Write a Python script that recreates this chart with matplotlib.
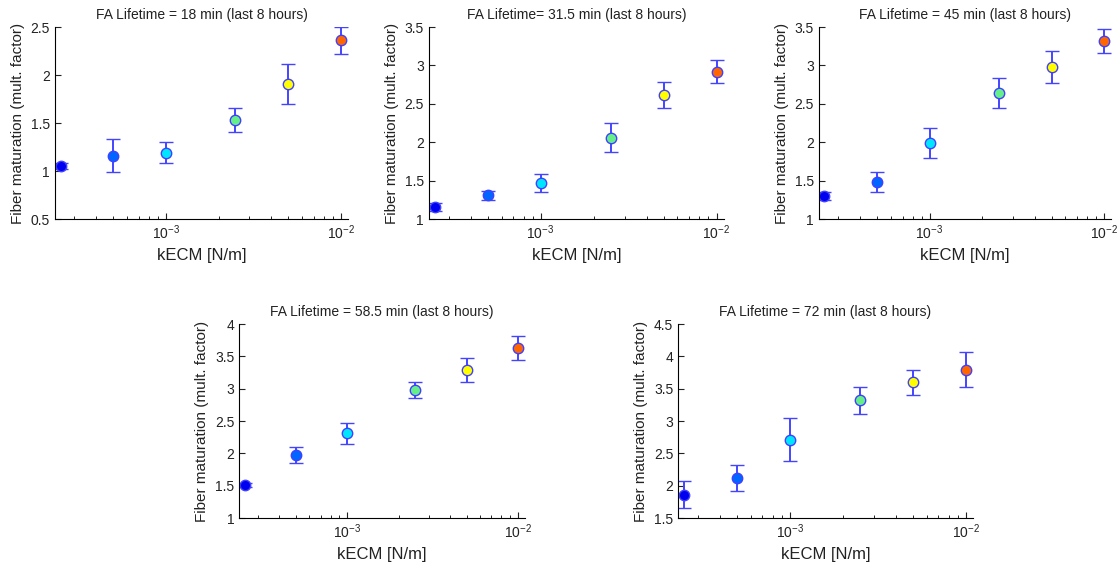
import numpy as np
import matplotlib.pyplot as plt
from matplotlib.ticker import LogLocator, NullFormatter, FixedLocator

plt.rcParams['font.family'] = ['Liberation Sans', 'DejaVu Sans']
plt.rcParams['mathtext.fontset'] = 'custom'
plt.rcParams['mathtext.rm'] = 'Liberation Sans'

# stiffness values (x axis, log scale)
kecm = [2.5e-4, 5e-4, 1e-3, 2.5e-3, 5e-3, 1e-2]

titles = ['FA Lifetime = 18 min (last 8 hours)',
          'FA Lifetime= 31.5 min (last 8 hours)',
          'FA Lifetime = 45 min (last 8 hours)',
          'FA Lifetime = 58.5 min (last 8 hours)',
          'FA Lifetime = 72 min (last 8 hours)']

mean_18 = [1.05, 1.16, 1.19, 1.53, 1.91, 2.36]
err_18 = [0.03, 0.17, 0.11, 0.125, 0.21, 0.14]
mean_31 = [1.16, 1.31, 1.47, 2.06, 2.62, 2.92]
err_31 = [0.055, 0.06, 0.12, 0.19, 0.17, 0.145]
mean_45 = [1.30, 1.48, 1.99, 2.64, 2.98, 3.32]
err_45 = [0.05, 0.13, 0.20, 0.19, 0.205, 0.155]
mean_58 = [1.51, 1.98, 2.31, 2.98, 3.29, 3.63]
err_58 = [0.03, 0.125, 0.16, 0.13, 0.18, 0.185]
mean_72 = [1.86, 2.12, 2.71, 3.32, 3.60, 3.79]
err_72 = [0.21, 0.195, 0.33, 0.205, 0.195, 0.27]

means = [mean_18, mean_31, mean_45, mean_58, mean_72]
errs = [err_18, err_31, err_45, err_58, err_72]
ylims = [(0.5, 2.5), (1, 3.5), (1, 3.5), (1, 4), (1.5, 4.5)]

# point colours (jet-like)
colors = ['#0000f0', '#0066ff', '#00e6ff', '#66ee88', '#ffff00', '#ff6600']

# axes rectangles [left, bottom, width, height] in figure fraction
rects = [[0.0492, 0.6144, 0.2623, 0.338],
         [0.384, 0.6144, 0.264, 0.338],
         [0.733, 0.6144, 0.262, 0.338],
         [0.214, 0.088, 0.256, 0.3415],
         [0.607, 0.088, 0.264, 0.3415]]

fig = plt.figure(figsize=(11.17, 5.68), dpi=100)

for idx in range(5):
    ax = fig.add_axes(rects[idx])
    ax.set_xscale('log')
    for i in range(len(kecm)):
        ax.errorbar(kecm[i], means[idx][i], yerr=errs[idx][i], fmt='o',
                    color=colors[i], markeredgecolor='#4040ff', markeredgewidth=1.0,
                    markersize=7.5, ecolor='#4444ff', elinewidth=1.4,
                    capsize=5, capthick=1.4)
    ax.set_xlim(2.32e-4, 1.1e-2)
    ax.set_ylim(*ylims[idx])
    lo, hi = ylims[idx]
    ax.yaxis.set_major_locator(FixedLocator(np.arange(lo, hi + 0.01, 0.5)))
    ax.set_yticklabels(['%g' % v for v in np.arange(lo, hi + 0.01, 0.5)])
    ax.xaxis.set_major_locator(FixedLocator([1e-3, 1e-2]))
    ax.set_xticklabels([r'$\mathregular{10^{-3}}$', r'$\mathregular{10^{-2}}$'])
    ax.xaxis.set_minor_locator(LogLocator(base=10, subs=np.arange(2, 10)))
    ax.xaxis.set_minor_formatter(NullFormatter())
    ax.spines['top'].set_visible(False)
    ax.spines['right'].set_visible(False)
    ax.tick_params(direction='in', which='major', length=4, labelsize=10, colors='#222222')
    ax.tick_params(direction='in', which='minor', length=2.5)
    ax.set_title(titles[idx], fontsize=10, color='#222222')
    ax.set_xlabel('kECM [N/m]', fontsize=12, color='#222222')
    ax.set_ylabel('Fiber maturation (mult. factor)', fontsize=11, color='#222222')

plt.savefig('out.png', dpi=100)
